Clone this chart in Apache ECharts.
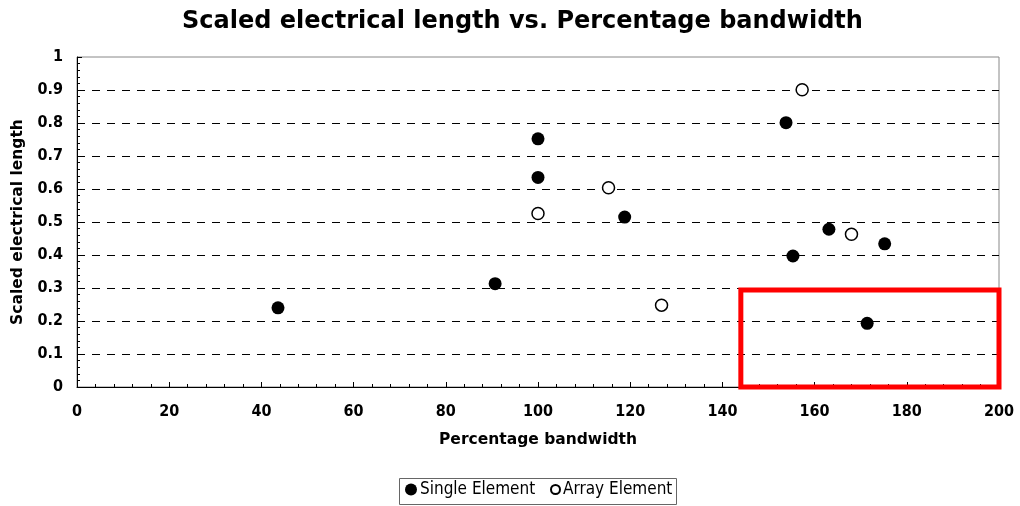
<!DOCTYPE html>
<html>
<head>
<meta charset="utf-8">
<script src="https://cdn.jsdelivr.net/npm/echarts@6/dist/echarts.min.js"></script>
<style>html,body{margin:0;padding:0;background:#fff;}#c{width:1020px;height:506px;}</style>
</head>
<body>
<div id="c"></div>
<script>
// Data
const singleX = [43.6, 90.7, 100, 100, 118.8, 153.8, 155.3, 163.1, 171.4, 175.2];
const singleY = [0.240, 0.313, 0.752, 0.635, 0.515, 0.801, 0.397, 0.478, 0.193, 0.434];
const arrayX = [100, 115.3, 126.8, 157.3, 168.0];
const arrayY = [0.526, 0.604, 0.248, 0.901, 0.463];
const seriesNames = ['Single Element', 'Array Element'];
const highlightBox = [[144, 0], [200, 0.294]]; // [x,y] corners of red box
const titleText = 'Scaled electrical length vs. Percentage bandwidth';
const xName = 'Percentage bandwidth';
const yName = 'Scaled electrical length';

const pairs = (xs, ys) => xs.map((x, i) => [x, ys[i]]);
const FONT = 'DejaVu Sans';
const FONT_C = 'DejaVu Sans Condensed';

const chart = echarts.init(document.getElementById('c'), null, {renderer: 'canvas'});
const gridColors = [];
for (let i = 0; i < 10; i++) gridColors.push('#000');
gridColors.push('rgba(0,0,0,0)');

const legendText = {fontFamily: FONT_C, fontSize: 17, color: '#000', padding: [0, 0, 0, -2]};

chart.setOption({
  animation: false,
  backgroundColor: '#fff',
  title: {
    text: titleText, left: 177, top: 5,
    textStyle: {fontFamily: FONT, fontWeight: 'bold', fontSize: 24, color: '#000'}
  },
  grid: {left: 77, right: 21, top: 57, bottom: 119, show: true, borderColor: '#888', borderWidth: 1, backgroundColor: 'transparent'},
  graphic: [{
    type: 'rect', left: 397, top: 476, z: 0,
    shape: {width: 277, height: 26},
    style: {fill: 'none', stroke: '#666', lineWidth: 1}
  }],
  legend: [
    {
      top: 481, left: 405, padding: 0,
      data: [seriesNames[0]],
      itemWidth: 12, itemHeight: 12,
      textStyle: legendText
    },
    {
      top: 481, left: 550, padding: 0,
      data: [seriesNames[1]],
      itemWidth: 9, itemHeight: 9,
      textStyle: legendText
    }
  ],
  xAxis: {
    type: 'value', min: 0, max: 200, interval: 20,
    name: xName, nameLocation: 'middle', nameGap: 45,
    nameTextStyle: {fontFamily: FONT, fontWeight: 'bold', fontSize: 15.5, color: '#000'},
    axisLine: {show: true, onZero: false, lineStyle: {color: '#000', width: 1}},
    axisTick: {show: true, inside: true, length: 5, lineStyle: {color: '#000'}},
    minorTick: {show: true, splitNumber: 5, length: 3, lineStyle: {color: '#000'}},
    axisLabel: {fontFamily: FONT_C, fontWeight: 'bold', fontSize: 16, color: '#000', margin: 17},
    splitLine: {show: false}
  },
  yAxis: {
    type: 'value', min: 0, max: 1, interval: 0.1,
    name: yName, nameLocation: 'middle', nameGap: 51, nameRotate: 90,
    nameTextStyle: {fontFamily: FONT, fontWeight: 'bold', fontSize: 15.5, color: '#000'},
    axisLine: {show: true, onZero: false, lineStyle: {color: '#000', width: 1}},
    axisTick: {show: true, inside: true, length: 5, lineStyle: {color: '#000'}},
    minorTick: {show: true, splitNumber: 5, length: 3, lineStyle: {color: '#000'}},
    axisLabel: {fontFamily: FONT_C, fontWeight: 'bold', fontSize: 16, color: '#000', margin: 14},
    splitLine: {show: true, lineStyle: {color: gridColors, width: 1, type: [8, 7]}}
  },
  series: [
    {
      name: seriesNames[0], type: 'scatter', symbol: 'circle', symbolSize: 13,
      clip: false,
      itemStyle: {color: '#000', borderColor: '#000', borderWidth: 0, opacity: 1},
      data: pairs(singleX, singleY),
      markArea: {
        silent: true,
        itemStyle: {color: 'rgba(0,0,0,0)', borderColor: '#ff0000', borderWidth: 5},
        data: [[{coord: highlightBox[0]}, {coord: highlightBox[1]}]]
      },
      z: 3
    },
    {
      name: seriesNames[1], type: 'scatter', symbol: 'circle', symbolSize: 12,
      itemStyle: {color: '#fff', borderColor: '#000', borderWidth: 1.5, opacity: 1},
      data: pairs(arrayX, arrayY),
      z: 3
    }
  ]
});
</script>
</body>
</html>
